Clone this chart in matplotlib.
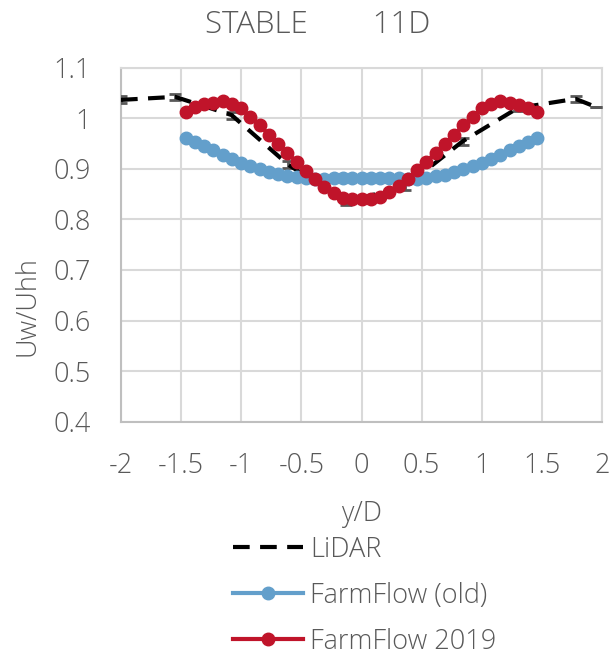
import numpy as np
import matplotlib
matplotlib.use("Agg")
import matplotlib.pyplot as plt
from matplotlib.lines import Line2D

# LiDAR measurements (with small error bars)
lidar_x = [-2.0, -1.55, -1.08, -0.61, -0.13, 0.36, 0.84, 1.3, 1.78, 1.95]
lidar_y = [1.036, 1.042, 1.006, 0.908, 0.835, 0.864, 0.954, 1.02, 1.038, 1.022]
lidar_err = [0.007, 0.006, 0.007, 0.007, 0.007, 0.006, 0.007, 0.006, 0.006, 0.0]

# FarmFlow model positions (y/D)
ff_x = [-1.463, -1.386, -1.309, -1.232, -1.155, -1.078, -1.001, -0.924, -0.847, -0.770,
        -0.693, -0.616, -0.539, -0.462, -0.385, -0.308, -0.231, -0.154, -0.077, 0.0,
        0.077, 0.154, 0.231, 0.308, 0.385, 0.462, 0.539, 0.616, 0.693, 0.770,
        0.847, 0.924, 1.001, 1.078, 1.155, 1.232, 1.309, 1.386, 1.463]

ff_old = [0.961, 0.953, 0.945, 0.936, 0.928, 0.920, 0.912, 0.905, 0.899, 0.893,
          0.889, 0.886, 0.883, 0.881, 0.880, 0.880, 0.881, 0.881, 0.881, 0.881,
          0.881, 0.881, 0.881, 0.881, 0.880, 0.880, 0.881, 0.885, 0.888, 0.893,
          0.899, 0.905, 0.912, 0.920, 0.928, 0.936, 0.945, 0.953, 0.961]

ff_2019 = [1.013, 1.022, 1.027, 1.030, 1.034, 1.028, 1.019, 1.002, 0.986, 0.967,
           0.949, 0.931, 0.913, 0.895, 0.879, 0.864, 0.852, 0.843, 0.840, 0.840,
           0.841, 0.845, 0.854, 0.866, 0.880, 0.897, 0.913, 0.932, 0.949, 0.967,
           0.986, 1.002, 1.019, 1.028, 1.033, 1.030, 1.025, 1.020, 1.013]

xticks = [-2, -1.5, -1, -0.5, 0, 0.5, 1, 1.5, 2]
yticks = [0.4, 0.5, 0.6, 0.7, 0.8, 0.9, 1.0, 1.1]

plt.rcParams['font.family'] = ['Open Sans', 'DejaVu Sans']
plt.rcParams['font.weight'] = 'light'
txt = '#595959'
fs = 19.5
blue = '#639fcb'
red = '#c0142a'
dash = (0, (4, 2.5))

fig = plt.figure(figsize=(6.16, 6.57), dpi=100)
ax = fig.add_axes([121/616, 1-421.7/657, 481/616, 354.2/657])

ax.errorbar(lidar_x, lidar_y, yerr=lidar_err, color='black', lw=3,
            ls=dash, ecolor='#595959', elinewidth=2, capsize=4.5,
            capthick=2, zorder=3)
ax.plot(ff_x, ff_old, color=blue, lw=3, marker='o', ms=9, zorder=4)
ax.plot(ff_x, ff_2019, color=red, lw=3, marker='o', ms=9, zorder=5)

ax.set_xlim(-2, 2)
ax.set_ylim(0.4, 1.1)
ax.set_xticks(xticks)
ax.set_xticklabels(['%g' % t for t in xticks])
ax.set_yticks(yticks)
ax.set_yticklabels(['%g' % t for t in yticks])
ax.grid(True, color='#d9d9d9', lw=1.5)
ax.set_axisbelow(True)
for s in ax.spines.values():
    s.set_color('#d9d9d9')
    s.set_linewidth(1.5)
ax.spines['left'].set_color('#bfbfbf')
ax.spines['bottom'].set_color('#bfbfbf')
ax.tick_params(length=0, labelsize=fs, labelcolor=txt, pad=22)

fig.text(0.516, 0.962, 'STABLE        11D', ha='center', va='center',
         fontsize=22.5, color=txt)
fig.text(0.045, 1-306/657, 'Uw/Uhh', rotation=90, ha='center', va='center',
         fontsize=fs, color=txt)
fig.text(362/616, 1-514/657, 'y/D', ha='center', va='center',
         fontsize=fs, color=txt)

handles = [Line2D([], [], color='black', lw=3, ls=dash),
           Line2D([], [], color=blue, lw=3, marker='o', ms=9),
           Line2D([], [], color=red, lw=3, marker='o', ms=9)]
labels = ['LiDAR', 'FarmFlow (old)', 'FarmFlow 2019']
fig.legend(handles, labels, loc='upper left', bbox_to_anchor=(222/616, 1-525/657),
           frameon=False, fontsize=fs, labelcolor=txt, handlelength=2.6,
           handletextpad=0.25, labelspacing=0.66, borderaxespad=0)

fig.savefig('out.png', dpi=100)
